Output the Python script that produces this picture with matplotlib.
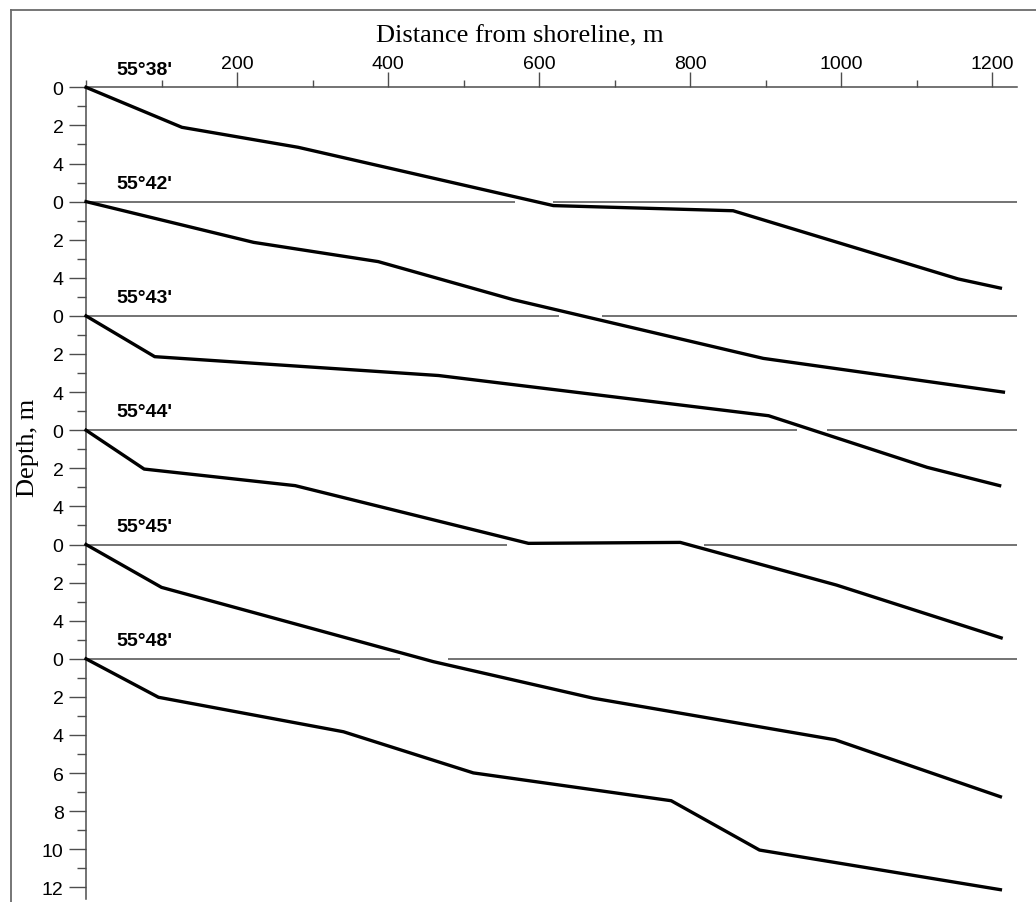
"""Stacked nearshore depth profiles along the shoreline (one per latitude)."""
import matplotlib
matplotlib.use("Agg")
import matplotlib.pyplot as plt
import numpy as np
from matplotlib.lines import Line2D

# Profiles: distance from shoreline (m) and depth (m).
stations = ["55°38'", "55°42'", "55°43'", "55°44'", "55°45'", "55°48'"]

dist_38 = [0, 127, 281, 619, 857, 1155, 1211]
depth_38 = [0, 2.1, 3.15, 6.21, 6.48, 10.06, 10.54]

dist_42 = [0, 222, 387, 566, 897, 1215]
depth_42 = [0, 2.14, 3.15, 5.15, 8.23, 10.0]

dist_43 = [0, 91, 467, 904, 1114, 1210]
depth_43 = [0, 2.14, 3.13, 5.24, 7.95, 8.91]

dist_44 = [0, 77, 277, 586, 787, 994, 1212]
depth_44 = [0, 2.04, 2.91, 5.94, 5.89, 8.13, 10.9]

dist_45 = [0, 100, 460, 672, 992, 1211]
depth_45 = [0, 2.25, 6.15, 8.07, 10.25, 13.24]

dist_48 = [0, 96, 341, 513, 775, 892, 1211]
depth_48 = [0, 2.02, 3.83, 5.99, 7.45, 10.04, 12.12]

# breaks (m) in each station's zero line where the line above crosses it
zero_gaps = [(568, 619), (626, 683), (941, 981), (557, 818), (416, 480)]

profile_ticks = [0, 2, 4]
last_ticks = [0, 2, 4, 6, 8, 10, 12]
x_major = [200, 400, 600, 800, 1000, 1200]
x_minor = [0, 100, 300, 500, 700, 900, 1100]

STEP = 6          # vertical offset between stacked profiles (depth units)
XMAX = 1233
W, H = 1036, 903

plt.rcParams["font.family"] = ["Liberation Sans", "DejaVu Sans"]
GREY = "#4d4d4d"

dists = [dist_38, dist_42, dist_43, dist_44, dist_45, dist_48]
depths = [depth_38, depth_42, depth_43, depth_44, depth_45, depth_48]

fig = plt.figure(figsize=(W / 100, H / 100), dpi=100)
ax = fig.add_axes([86 / W, 3 / H, (1017 - 86) / W, (900 - 88.3) / H])
ax.set_xlim(0, XMAX)
ax.set_ylim(811.7 / 19.05, 0)

for side in ("right", "bottom"):
    ax.spines[side].set_visible(False)
for side in ("left", "top"):
    ax.spines[side].set_color(GREY)
    ax.spines[side].set_linewidth(1.1)

# zero lines of the lower profiles, with breaks
for k, (lo, hi) in enumerate(zero_gaps, start=1):
    ax.hlines([STEP * k, STEP * k], [0, hi], [lo, XMAX], color=GREY, lw=1.1,
              capstyle="butt", zorder=2)

for k, (name, d, z) in enumerate(zip(stations, dists, depths)):
    ax.plot(d, np.asarray(z) + STEP * k, color="black", lw=2.4, zorder=3,
            solid_joinstyle="round", clip_on=False)
    ax.text(40, STEP * k - 0.72, name, fontsize=14, fontweight="bold",
            ha="left", va="baseline", clip_on=False)

# y ticks repeat per profile
n = len(stations)
major_pos, major_lab, minor_pos = [], [], []
for k in range(n):
    ticks = last_ticks if k == n - 1 else profile_ticks
    for t in ticks:
        major_pos.append(STEP * k + t)
        major_lab.append(str(t))
    minor_pos += [STEP * k + t + 1 for t in ticks[:-1]]
    if k < n - 1:
        minor_pos.append(STEP * k + ticks[-1] + 1)
ax.set_yticks(major_pos, major_lab)
ax.set_yticks(minor_pos, minor=True)

ax.xaxis.tick_top()
ax.set_xticks(x_major, [str(v) for v in x_major])
ax.set_xticks(x_minor, minor=True)

ax.tick_params(axis="x", which="major", length=10.8, width=1.0, color=GREY,
               labelsize=14, pad=0.5)
ax.tick_params(axis="x", which="minor", length=5.4, width=1.0, color=GREY)
ax.tick_params(axis="y", which="major", length=12.2, width=1.0, color=GREY,
               labelsize=14, pad=4)
ax.tick_params(axis="y", which="minor", length=6.5, width=1.0, color=GREY)

serif = ["Liberation Serif", "DejaVu Serif"]
fig.text(519.5 / W, 1 - 42 / H, "Distance from shoreline, m", family=serif,
         fontsize=19, ha="center", va="baseline")
fig.text(28 / W, 1 - 448 / H, "Depth, m", family=serif, fontsize=19,
         rotation=90, ha="center", va="center")

# outer frame (left and top edges visible)
fx, fy = 11 / W, 1 - 11 / H
fig.add_artist(Line2D([fx, fx], [0, fy], transform=fig.transFigure,
                      color="#6b6b6b", lw=1.3))
fig.add_artist(Line2D([fx, 1], [fy, fy], transform=fig.transFigure,
                      color="#6b6b6b", lw=1.3))

fig.savefig("out.png", dpi=100)
